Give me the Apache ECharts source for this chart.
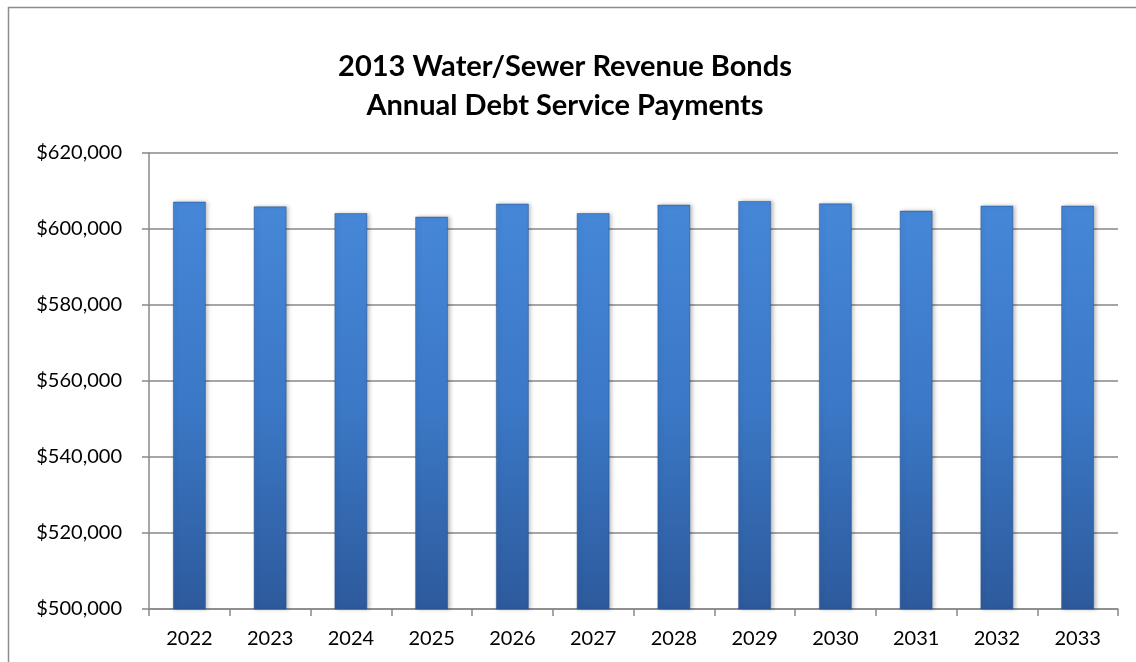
<!DOCTYPE html>
<html>
<head>
<meta charset="utf-8">
<script src="https://cdn.jsdelivr.net/npm/echarts@6/dist/echarts.min.js"></script>
<style>
html,body{margin:0;padding:0;background:#fff;}
#chart{width:1136px;height:662px;}
</style>
</head>
<body>
<div id="chart"></div>
<script>
var titleLines = ['2013 Water/Sewer Revenue Bonds', 'Annual Debt Service Payments'];
var years = ['2022','2023','2024','2025','2026','2027','2028','2029','2030','2031','2032','2033'];
var payments = [607210, 605970, 604210, 603260, 606680, 604210, 606420, 607370, 606760, 604840, 606160, 606160];
var yMin = 500000, yMax = 620000, yStep = 20000;

var chart = echarts.init(document.getElementById('chart'));
chart.setOption({
  animation: false,
  backgroundColor: '#ffffff',
  graphic: [{
    type: 'rect', left: 6, top: 5, silent: true,
    shape: { x: 0, y: 0, width: 1200, height: 700 },
    style: { fill: 'none', stroke: '#8c8c8c', lineWidth: 1.5 }
  }],
  title: {
    text: titleLines.join('\n'),
    left: 560, top: 42, textAlign: 'center',
    textStyle: { fontFamily: 'Lato', fontWeight: 'bold', fontSize: 29, lineHeight: 39, color: '#000' }
  },
  grid: { left: 149, top: 153, right: 18, bottom: 53 },
  xAxis: {
    type: 'category', data: years,
    axisLine: { lineStyle: { color: '#888', width: 1.5 } },
    axisTick: { show: true, length: 7, lineStyle: { color: '#888', width: 1.5 } },
    axisLabel: { fontFamily: 'Lato', fontSize: 20, color: '#000', margin: 20 }
  },
  yAxis: {
    type: 'value', min: yMin, max: yMax, interval: yStep,
    axisLine: { show: true, lineStyle: { color: '#888', width: 1.5 } },
    axisTick: { show: true, length: 7, lineStyle: { color: '#888', width: 1.5 } },
    splitLine: { lineStyle: { color: '#888', width: 1.5 } },
    axisLabel: {
      fontFamily: 'Lato', fontSize: 20, color: '#000', margin: 27,
      formatter: function (v) { return '$' + v.toLocaleString('en-US'); }
    }
  },
  series: [{
    type: 'bar', data: payments, barWidth: 33,
    itemStyle: {
      color: new echarts.graphic.LinearGradient(0, 0, 0, 1, [
        { offset: 0, color: '#4687d8' },
        { offset: 0.5, color: '#3b78c6' },
        { offset: 1, color: '#2d5a9c' }
      ]),
      borderColor: 'rgba(40,80,140,0.5)', borderWidth: 1,
      shadowBlur: 4, shadowColor: 'rgba(0,0,0,0.25)', shadowOffsetX: 2, shadowOffsetY: 0
    }
  }]
});
</script>
</body>
</html>
